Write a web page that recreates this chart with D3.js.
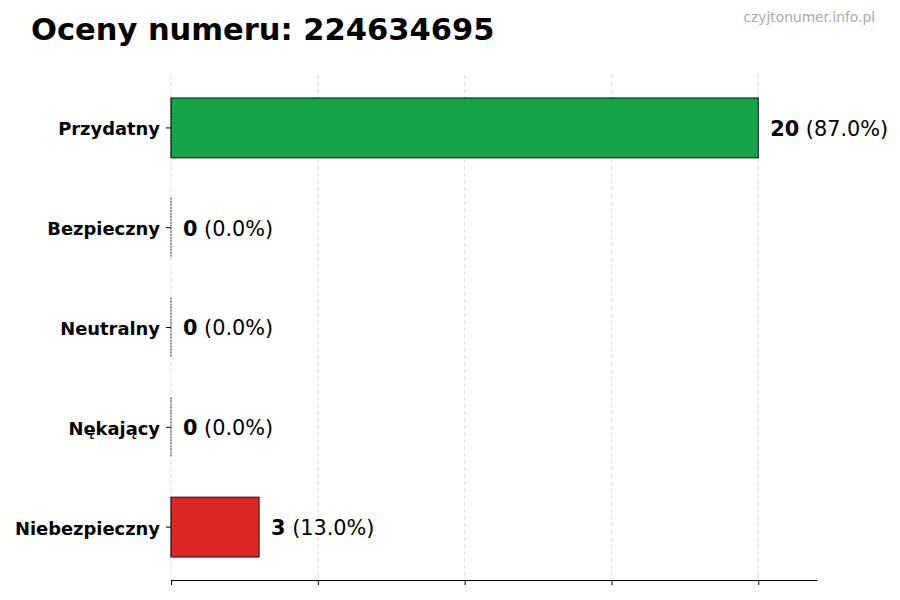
<!DOCTYPE html>
<html>
<head>
<meta charset="utf-8">
<script src="https://cdn.jsdelivr.net/npm/d3@7"></script>
<style>
  body { margin: 0; background: #fff; }
  text { font-family: "DejaVu Sans", sans-serif; }
</style>
</head>
<body>
<div id="chart"></div>
<script>
var categories = ["Przydatny", "Bezpieczny", "Neutralny", "Nękający", "Niebezpieczny"];
var counts = [20, 0, 0, 0, 3];
var percents = ["87.0%", "0.0%", "0.0%", "0.0%", "13.0%"];
var colors = ["#16a34a", "#16a34a", "#9ca3af", "#dc2626", "#dc2626"];
var xTicks = [0, 5, 10, 15, 20];

var width = 900, height = 600;
var margin = {top: 75, right: 83, bottom: 20, left: 171};

var svg = d3.select("#chart").append("svg")
    .attr("width", width)
    .attr("height", height);

var x = d3.scaleLinear().domain([0, 22]).range([margin.left, width - margin.right]);
var y = d3.scaleBand()
    .domain(categories)
    .range([margin.top, height - margin.bottom])
    .paddingInner(0.4)
    .paddingOuter(0.23);

var data = categories.map(function(c, i) {
  return {cat: c, count: counts[i], pct: percents[i], color: colors[i]};
});

// grid lines (behind bars)
svg.append("g")
  .selectAll("line")
  .data(xTicks)
  .enter().append("line")
    .attr("x1", function(d) { return x(d); })
    .attr("x2", function(d) { return x(d); })
    .attr("y1", margin.top)
    .attr("y2", height - margin.bottom)
    .attr("stroke", "#d4d4d4")
    .attr("stroke-width", 0.8)
    .attr("stroke-dasharray", "4,3");

// bars
svg.append("g")
  .selectAll("rect")
  .data(data)
  .enter().append("rect")
    .attr("x", x(0))
    .attr("y", function(d) { return y(d.cat); })
    .attr("width", function(d) { return x(d.count) - x(0); })
    .attr("height", y.bandwidth())
    .attr("fill", function(d) { return d.color; })
    .attr("stroke", "#111")
    .attr("stroke-width", 1);

// left edge of each bar (visible even for zero counts)
svg.append("g")
  .selectAll("line")
  .data(data)
  .enter().append("line")
    .attr("x1", x(0))
    .attr("x2", x(0))
    .attr("y1", function(d) { return y(d.cat); })
    .attr("y2", function(d) { return y(d.cat) + y.bandwidth(); })
    .attr("stroke", "#333")
    .attr("stroke-width", 1)
    .attr("stroke-dasharray", "2,1");

// bottom axis, no labels
var xAxis = svg.append("g")
    .attr("transform", "translate(0," + (height - margin.bottom) + ")")
    .call(d3.axisBottom(x).tickValues(xTicks).tickSize(5).tickFormat("").tickSizeOuter(0));
xAxis.select(".domain").attr("stroke", "#000");
xAxis.selectAll(".tick line").attr("stroke", "#000");

// left axis: tick marks + labels, no spine
var yAxis = svg.append("g")
    .attr("transform", "translate(" + margin.left + ",0)")
    .call(d3.axisLeft(y).tickSize(5).tickPadding(6));
yAxis.select(".domain").remove();
yAxis.selectAll(".tick line").attr("stroke", "#000");
yAxis.selectAll(".tick text")
    .attr("fill", "#000")
    .attr("dy", "0.42em")
    .style("font-family", "DejaVu Sans")
    .style("font-size", "17.9px")
    .style("font-weight", "bold");

// value labels
var labels = svg.append("g")
  .selectAll("text")
  .data(data)
  .enter().append("text")
    .attr("x", function(d) { return x(d.count) + 12; })
    .attr("y", function(d) { return y(d.cat) + y.bandwidth() / 2; })
    .attr("dy", "0.38em")
    .style("font-size", "20.8px")
    .attr("fill", "#000");
labels.append("tspan")
    .style("font-weight", "bold")
    .text(function(d) { return d.count; });
labels.append("tspan")
    .text(function(d) { return " (" + d.pct + ")"; });

// title
svg.append("text")
    .attr("x", 31)
    .attr("y", 40)
    .style("font-size", "30.5px")
    .style("font-weight", "bold")
    .attr("fill", "#000")
    .text("Oceny numeru: 224634695");

// watermark
svg.append("text")
    .attr("x", 875)
    .attr("y", 22)
    .attr("text-anchor", "end")
    .style("font-size", "13.8px")
    .attr("fill", "#aaaaaa")
    .text("czyjtonumer.info.pl");
</script>
</body>
</html>
